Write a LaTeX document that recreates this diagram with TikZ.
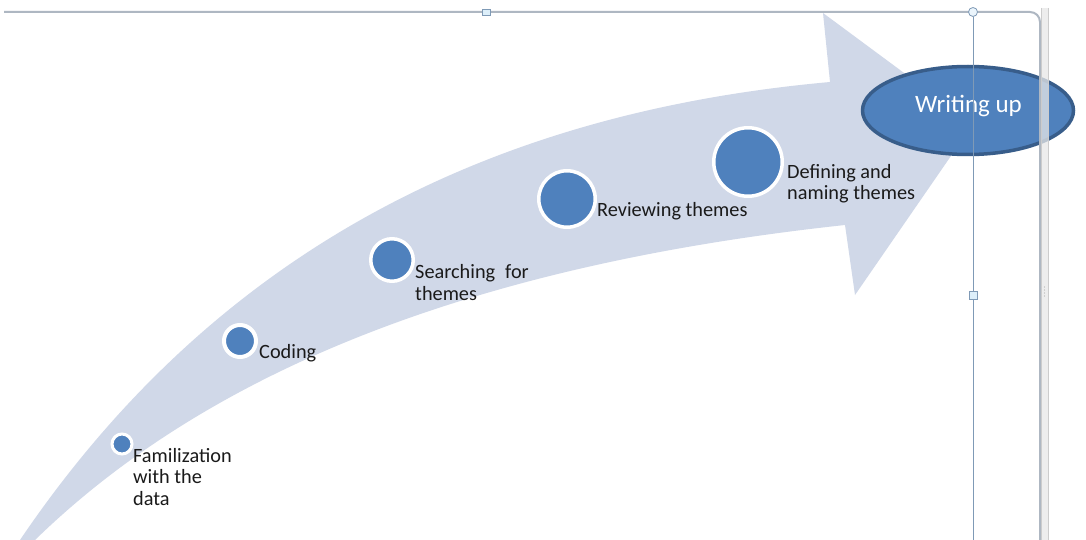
\documentclass[tikz,border=0pt]{standalone}
\usepackage{fontspec}
\setmainfont{Carlito}
\usetikzlibrary{shapes.geometric}
\definecolor{band}{HTML}{D0D8E8}
\definecolor{accent}{HTML}{4F81BD}
\definecolor{accentdark}{HTML}{385D8A}
\definecolor{guide}{HTML}{7F9AB6}
\definecolor{frameline}{HTML}{AEB7C2}
\definecolor{txt}{HTML}{1A1A1A}
\definecolor{handlefill}{HTML}{DDEFFA}
\begin{document}
\begin{tikzpicture}[x=1pt,y=-1pt,
  stage/.style={circle, fill=accent, draw=white, inner sep=0},
  lbl/.style={font=\fontsize{20.3}{21.6}\selectfont, text=txt, align=left, inner sep=0, anchor=base west},
  sqhandle/.style={rectangle, fill=handlefill, draw=guide, line width=0.8, inner sep=0, minimum width=8, minimum height=8},
  rdhandle/.style={circle, fill=handlefill!60, draw=guide, line width=0.8, inner sep=0, minimum size=9}
]
\useasboundingbox (0,0) rectangle (1086,540);
\fill[white] (0,0) rectangle (1086,540);
% curved arrow
\fill[band] (20,540) .. controls (230,230) and (520,110) .. (830,82) -- (823,13) -- (973,124) -- (855,295) -- (845,225) .. controls (520,260) and (230,350) .. (35,540) -- cycle;
% stages
\node[stage, line width=3, minimum size=20] (s1) at (122,444) {};
\node[stage, line width=4, minimum size=32] (s2) at (240,341) {};
\node[stage, line width=3.5, minimum size=42.5] (s3) at (392,260) {};
\node[stage, line width=3.5, minimum size=56.5] (s4) at (567,199) {};
\node[stage, line width=3.5, minimum size=68.5] (s5) at (748,162) {};
% labels (anchor = baseline of last line)
\node[lbl] (l1) at (133,505.5) {Familization\\with the\\data};
\node[lbl] (l2) at (259,358) {Coding};
\node[lbl] (l3) at (415,300) {Searching\hspace{10pt}for\\themes};
\node[lbl] (l4) at (597,216) {Reviewing themes};
\node[lbl] (l5) at (787,200) {Defining and\\naming themes};
% final ellipse
\node[ellipse, fill=accent, draw=accentdark, line width=3.5, minimum width=211, minimum height=88, inner sep=0] (w) at (968,110.5) {};
\node[font=\fontsize{25}{28}\selectfont, text=white, anchor=base, inner sep=0] (wt) at (968.5,113) {Writing up};
% editor frame
\draw[frameline, line width=2, rounded corners=10] (4,12) -- (1040,12) -- (1040,540);
\fill[gray!18, opacity=0.75] (1041,8) rectangle (1048,540);
\draw[gray!40, line width=0.8] (1041,8) -- (1041,540) (1048,8) -- (1048,540);
\foreach \yy in {287,290,293,296} \fill[gray!60] (1044.5,\yy) circle (0.7);
% guide line and handles
\node[sqhandle, minimum width=8, minimum height=6] (h1) at (486,12) {};
\node[rdhandle] (h2) at (973,12) {};
\node[sqhandle] (h3) at (973,295) {};
\coordinate (h4) at (973,540);
\draw[guide, line width=1] (h2) -- (h3);
\draw[guide, line width=1] (h3) -- (h4);
\end{tikzpicture}
\end{document}
